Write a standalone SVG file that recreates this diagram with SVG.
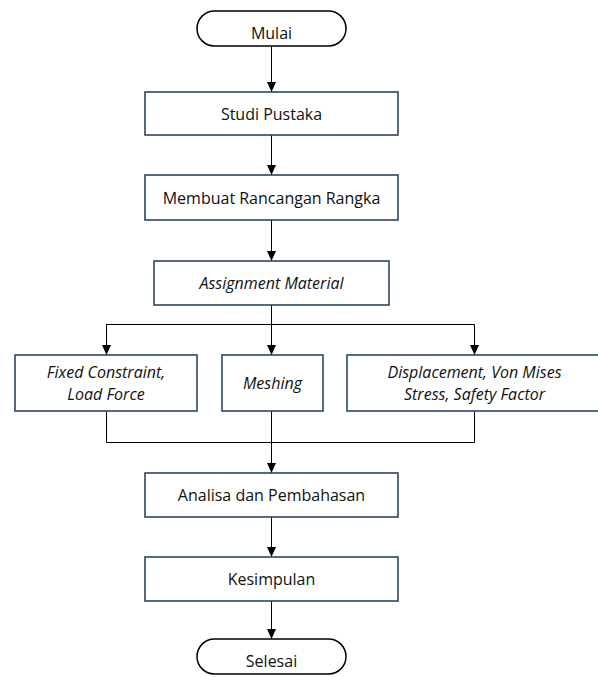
<svg xmlns="http://www.w3.org/2000/svg" width="598" height="677" viewBox="0 0 598 677">
<defs>
<marker id="arr" markerUnits="userSpaceOnUse" markerWidth="10" markerHeight="10" refX="10" refY="5" orient="auto">
<path d="M0,0.5 L10,5 L0,9.5 z" fill="#000"/>
</marker>
</defs>
<style>
.box{fill:#fff;stroke:#2e4468;stroke-width:1.6}
.term{fill:#fff;stroke:#000;stroke-width:1.5}
.t{font-family:"Open Sans","DejaVu Sans",sans-serif;font-size:16px;fill:#111;text-anchor:middle}
.i{font-style:italic}
.c{fill:none;stroke:#000;stroke-width:1}
.ca{fill:none;stroke:#000;stroke-width:1;marker-end:url(#arr)}
</style>
<rect width="598" height="677" fill="#fff"/>
<g id="connectors">
<line class="ca" x1="271.5" y1="46" x2="271.5" y2="92"/>
<line class="ca" x1="271.5" y1="135" x2="271.5" y2="175"/>
<line class="ca" x1="271.5" y1="220" x2="271.5" y2="261"/>
<line class="ca" x1="271.5" y1="305" x2="271.5" y2="355"/>
<polyline class="c" points="106.5,355 106.5,324.5 474.5,324.5 474.5,355"/>
<line class="ca" x1="106.5" y1="324.5" x2="106.5" y2="355"/>
<line class="ca" x1="474.5" y1="324.5" x2="474.5" y2="355"/>
<polyline class="c" points="106.5,411 106.5,442.5 474.5,442.5 474.5,411"/>
<line class="ca" x1="271.5" y1="411" x2="271.5" y2="473"/>
<line class="ca" x1="271.5" y1="517" x2="271.5" y2="557"/>
<line class="ca" x1="271.5" y1="601" x2="271.5" y2="639"/>
</g>
<g id="mulai">
<rect class="term" x="197" y="11" width="149" height="35" rx="17.5"/>
<text class="t" x="271.5" y="39">Mulai</text>
</g>
<g id="studi">
<rect class="box" x="145" y="92" width="253" height="43"/>
<text class="t" x="271.5" y="120">Studi Pustaka</text>
</g>
<g id="rancangan">
<rect class="box" x="145" y="175" width="253" height="45"/>
<text class="t" x="271.5" y="204">Membuat Rancangan Rangka</text>
</g>
<g id="assignment">
<rect class="box" x="154" y="261" width="235" height="44"/>
<text class="t i" x="271.5" y="289">Assignment Material</text>
</g>
<g id="fixed">
<rect class="box" x="15" y="355" width="182" height="56"/>
<text class="t i" x="106" y="378">Fixed Constraint,</text>
<text class="t i" x="106" y="400">Load Force</text>
</g>
<g id="meshing">
<rect class="box" x="222" y="355" width="101" height="56"/>
<text class="t i" x="272.5" y="389">Meshing</text>
</g>
<g id="displacement">
<rect class="box" x="347" y="355" width="256" height="56"/>
<text class="t i" x="474.5" y="378">Displacement, Von Mises</text>
<text class="t i" x="474.5" y="400">Stress, Safety Factor</text>
</g>
<g id="analisa">
<rect class="box" x="145" y="473" width="253" height="44"/>
<text class="t" x="271.5" y="501">Analisa dan Pembahasan</text>
</g>
<g id="kesimpulan">
<rect class="box" x="145" y="557" width="253" height="44"/>
<text class="t" x="271.5" y="585">Kesimpulan</text>
</g>
<g id="selesai">
<rect class="term" x="197" y="639" width="149" height="35" rx="17.5"/>
<text class="t" x="271.5" y="667">Selesai</text>
</g>
</svg>
